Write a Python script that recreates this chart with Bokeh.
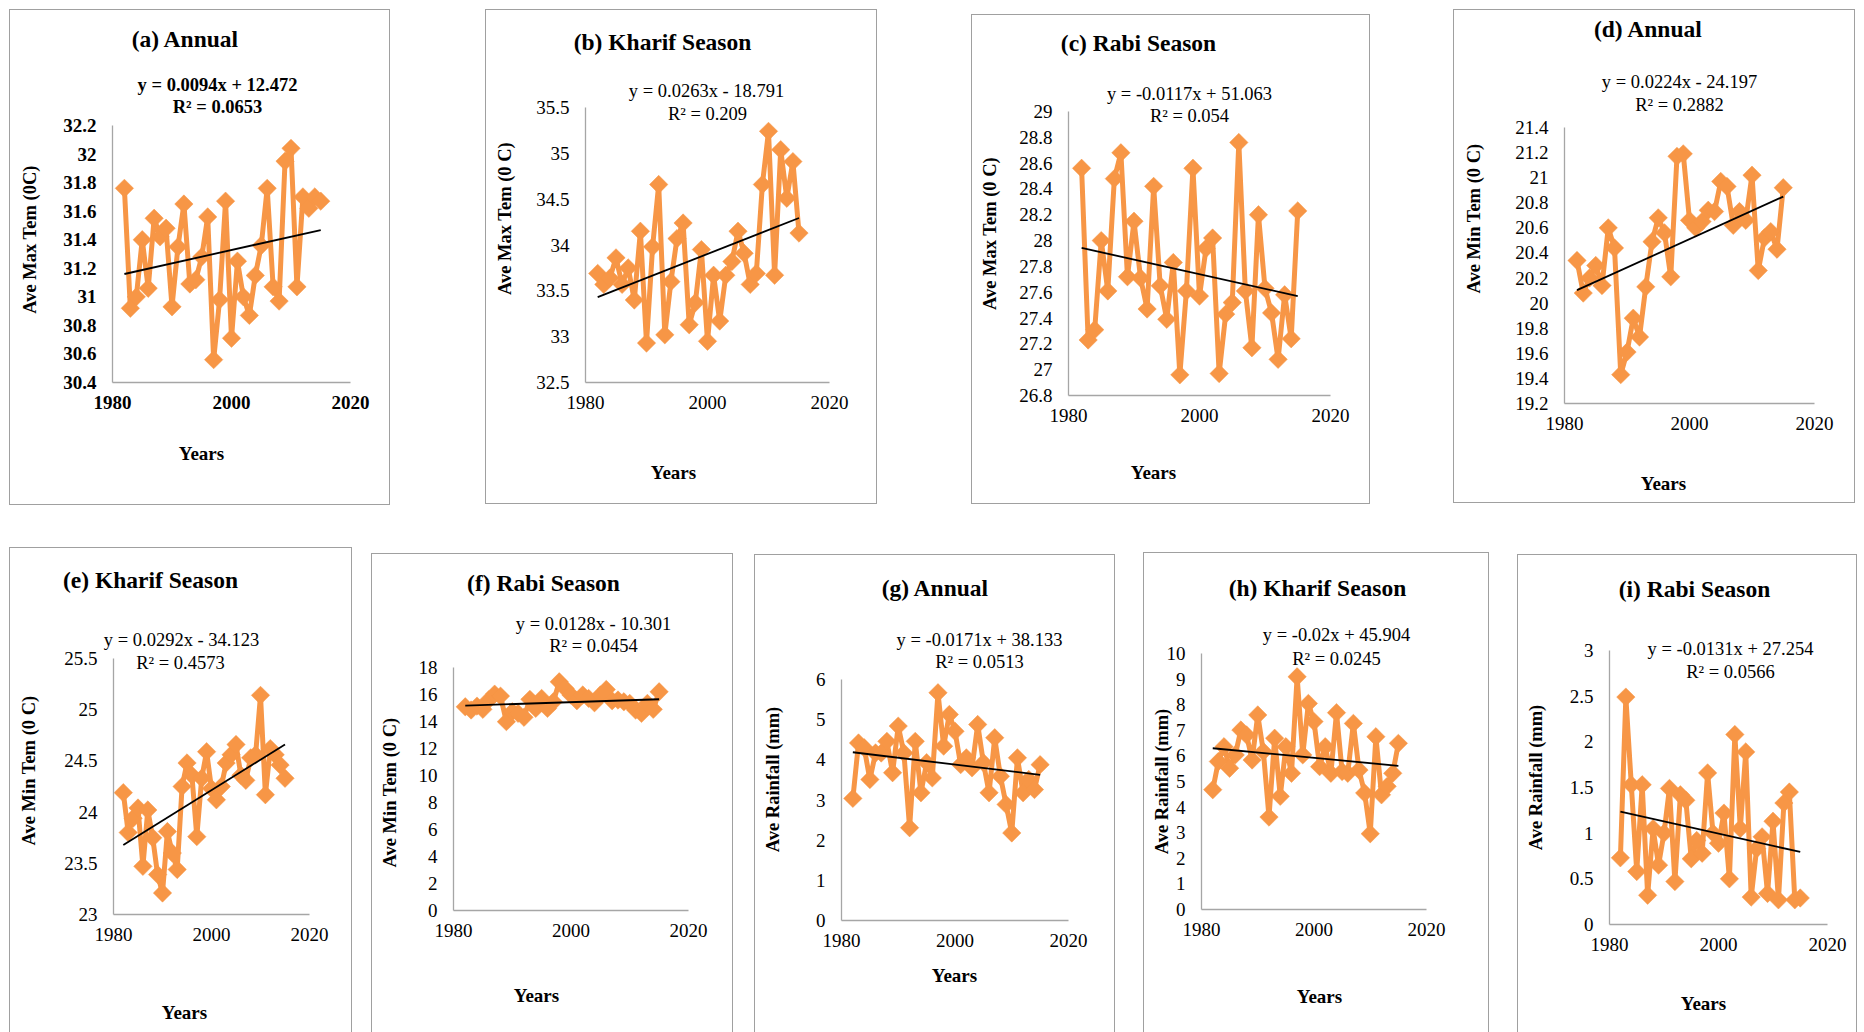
import numpy as np
from bokeh.plotting import figure
from bokeh.models import Range1d, FixedTicker, CustomJSTickFormatter, Label, Spacer
from bokeh.layouts import row, column
from bokeh.embed import file_html
from bokeh.resources import INLINE

years = list(range(1982, 2016))

max_annual = [31.76, 30.92, 31.00, 31.40, 31.06, 31.55, 31.42, 31.48, 30.93, 31.35,
              31.65, 31.09, 31.12, 31.28, 31.56, 30.56, 30.98, 31.67, 30.71, 31.25,
              31.00, 30.87, 31.15, 31.36, 31.76, 31.07, 30.97, 31.95, 32.04, 31.07,
              31.70, 31.62, 31.70, 31.67]
max_kharif = [33.69, 33.57, 33.64, 33.86, 33.57, 33.75, 33.40, 34.15, 32.93, 33.98,
              34.66, 33.02, 33.60, 34.07, 34.24, 33.13, 33.37, 33.95, 32.95, 33.67,
              33.17, 33.67, 33.82, 34.15, 33.91, 33.57, 33.69, 34.66, 35.24, 33.67,
              35.04, 34.51, 34.91, 34.13]
max_rabi = [28.56, 27.23, 27.31, 28.00, 27.61, 28.48, 28.68, 27.72, 28.15, 27.71,
            27.47, 28.42, 27.65, 27.39, 27.83, 26.96, 27.61, 28.56, 27.57, 27.94,
            28.02, 26.97, 27.43, 27.52, 28.76, 27.61, 27.17, 28.20, 27.63, 27.44,
            27.08, 27.58, 27.24, 28.23]
min_annual = [20.34, 20.08, 20.20, 20.30, 20.14, 20.60, 20.44, 19.43, 19.61, 19.88,
              19.73, 20.13, 20.49, 20.68, 20.56, 20.21, 21.17, 21.19, 20.66, 20.60,
              20.65, 20.74, 20.73, 20.97, 20.93, 20.62, 20.73, 20.66, 21.02, 20.26,
              20.52, 20.57, 20.43, 20.92]
min_kharif = [24.19, 23.80, 23.94, 24.04, 23.47, 24.02, 23.75, 23.39, 23.21, 23.81,
              23.60, 23.44, 24.25, 24.48, 24.36, 23.76, 24.33, 24.59, 24.23, 24.12,
              24.25, 24.48, 24.56, 24.66, 24.36, 24.31, 24.53, 24.56, 25.14, 24.17,
              24.62, 24.56, 24.46, 24.33]
min_rabi = [15.09, 14.85, 15.14, 14.90, 15.60, 16.03, 15.88, 13.99, 14.72, 14.60,
            14.31, 15.64, 14.97, 15.71, 14.97, 15.46, 16.94, 16.45, 15.96, 15.54,
            15.96, 15.71, 15.39, 15.96, 16.37, 15.54, 15.59, 15.46, 15.34, 14.85,
            14.60, 15.34, 14.90, 16.20]
rain_annual = [3.04, 4.42, 4.30, 3.51, 4.17, 4.17, 4.46, 3.68, 4.84, 4.17,
               2.31, 4.46, 3.18, 3.93, 3.55, 5.67, 4.34, 5.13, 4.71, 3.88,
               4.05, 3.80, 4.88, 3.93, 3.18, 4.55, 3.59, 2.89, 2.18, 4.05,
               3.18, 3.51, 3.26, 3.88]
rain_kharif = [4.68, 5.78, 6.36, 5.52, 6.04, 7.01, 6.82, 5.84, 7.60, 6.17,
               3.61, 6.69, 4.42, 6.36, 5.32, 9.09, 6.04, 8.05, 7.34, 5.58,
               6.36, 5.32, 7.69, 5.39, 5.32, 7.27, 5.45, 4.55, 2.96, 6.75,
               4.48, 4.81, 5.32, 6.49]
rain_rabi = [0.73, 2.49, 1.53, 0.58, 1.53, 0.32, 1.05, 0.65, 1.00, 1.49,
             0.47, 1.42, 1.36, 0.72, 0.92, 0.78, 1.66, 1.00, 0.89, 1.22,
             0.50, 2.08, 1.05, 1.89, 0.30, 0.83, 0.96, 0.34, 1.13, 0.27,
             1.33, 1.45, 0.27, 0.29]

titles = ["(a) Annual", "(b) Kharif Season", "(c) Rabi Season", "(d) Annual",
          "(e) Kharif Season", "(f) Rabi Season", "(g) Annual", "(h) Kharif Season",
          "(i) Rabi Season"]
equations = ["y = 0.0094x + 12.472", "y = 0.0263x - 18.791", "y = -0.0117x + 51.063",
             "y = 0.0224x - 24.197", "y = 0.0292x - 34.123", "y = 0.0128x - 10.301",
             "y = -0.0171x + 38.133", "y = -0.02x + 45.904", "y = -0.0131x + 27.254"]
r_squared = ["R² = 0.0653", "R² = 0.209", "R² = 0.054", "R² = 0.2882", "R² = 0.4573",
             "R² = 0.0454", "R² = 0.0513", "R² = 0.0245", "R² = 0.0566"]
y_titles = ["Ave Max Tem (0C)", "Ave Max Tem (0 C)", "Ave Max Tem (0 C)",
            "Ave Min Tem (0 C)", "Ave Min Tem (0 C)", "Ave Min Tem (0 C)",
            "Ave Rainfall (mm)", "Ave Rainfall (mm)", "Ave Rainfall (mm)"]
x_title = "Years"
x_ticks = [1980, 2000, 2020]
y_axes = [(30.4, 32.2, 0.2), (32.5, 35.5, 0.5), (26.8, 29.0, 0.2), (19.2, 21.4, 0.2),
          (23.0, 25.5, 0.5), (0, 18, 2), (0, 6, 1), (0, 10, 1), (0, 3, 0.5)]
series = [max_annual, max_kharif, max_rabi, min_annual, min_kharif, min_rabi,
          rain_annual, rain_kharif, rain_rabi]

# ---- layout (absolute pixel geometry of each panel) ----
layout = [
    dict(box=(9, 9, 390, 505), frame=(111, 349, 124, 381), title=(184, 37), eq=(216, 83), r2=(216, 105), yl=(28, 238), xl=(200, 452), bold=True),
    dict(box=(485, 9, 877, 504), frame=(584, 828, 106, 381), title=(661, 40), eq=(705, 89), r2=(706, 112), yl=(503, 217), xl=(672, 471)),
    dict(box=(971, 14, 1370, 504), frame=(1067, 1329, 110, 394), title=(1137, 41), eq=(1188, 92), r2=(1188, 114), yl=(988, 232), xl=(1152, 471)),
    dict(box=(1453, 9, 1855, 503), frame=(1563, 1813, 126, 402), title=(1647, 27), eq=(1678, 80), r2=(1678, 103), yl=(1472, 217), xl=(1662, 482)),
    dict(box=(9, 547, 352, 1032), frame=(112, 308, 657, 913), title=(149, 578), eq=(180, 638), r2=(179, 661), yl=(27, 769), xl=(183, 1011), open_bottom=True),
    dict(box=(371, 553, 733, 1032), frame=(452, 687, 666, 909), title=(542, 581), eq=(592, 622), r2=(592, 644), yl=(388, 791), xl=(535, 994), open_bottom=True),
    dict(box=(754, 554, 1115, 1032), frame=(840, 1067, 678, 919), title=(934, 586), eq=(978, 638), r2=(978, 660), yl=(771, 778), xl=(953, 974), open_bottom=True),
    dict(box=(1143, 552, 1489, 1032), frame=(1200, 1425, 652, 908), title=(1316, 586), eq=(1335, 633), r2=(1335, 657), yl=(1160, 780), xl=(1318, 995), open_bottom=True),
    dict(box=(1517, 554, 1857, 1032), frame=(1608, 1826, 649, 923), title=(1693, 587), eq=(1729, 647), r2=(1729, 670), yl=(1534, 776), xl=(1702, 1002), open_bottom=True),
]

FONT = "Liberation Serif"
ORANGE = "#F79646"
AXIS_GRAY = "#a6a6a6"
BOX_CSS = "1.5px solid #a0a0a0"


def make_panel(i):
    spec = layout[i]
    bx0, by0, bx1, by1 = spec["box"]
    fl, fr, ft, fb = spec["frame"]
    ylo, yhi, ystep = y_axes[i]
    bold = spec.get("bold", False)
    W, H = bx1 - bx0, by1 - by0

    # data ranges chosen so that the axes sit at the reference pixel positions
    kx = 40.0 / (fr - fl)
    ky = (yhi - ylo) / (fb - ft)
    x0 = 1980 - (fl - bx0) * kx
    x1 = 2020 + (bx1 - fr) * kx
    y0 = ylo - (by1 - fb) * ky
    y1 = yhi + (ft - by0) * ky

    p = figure(width=W, height=H, output_backend="svg", toolbar_location=None,
               x_range=Range1d(x0, x1), y_range=Range1d(y0, y1),
               min_border=0, min_border_left=0, min_border_right=0,
               min_border_top=0, min_border_bottom=0)
    css = {"border": BOX_CSS, "box-sizing": "border-box"}
    if spec.get("open_bottom"):
        css["border-bottom"] = "none"
    p.styles = css
    p.outline_line_color = None
    p.xgrid.visible = False
    p.ygrid.visible = False
    p.background_fill_color = "white"
    p.border_fill_color = "white"

    nt = int(round((yhi - ylo) / ystep))
    yt = [round(ylo + k * ystep, 3) for k in range(nt + 1)]
    fmt = CustomJSTickFormatter(code="return String(parseFloat(tick.toFixed(3)));")
    xa, ya = p.xaxis[0], p.yaxis[0]
    xa.fixed_location = ylo
    xa.bounds = (1980, 2020)
    ya.fixed_location = 1980
    ya.bounds = (ylo, yhi)
    for ax, ticks in ((xa, x_ticks), (ya, yt)):
        ax.ticker = FixedTicker(ticks=ticks)
        ax.formatter = fmt
        ax.axis_line_color = AXIS_GRAY
        ax.axis_line_width = 1.3
        ax.major_tick_line_color = None
        ax.minor_tick_line_color = None
        ax.major_tick_out = 0
        ax.major_tick_in = 0
        ax.major_label_text_font = FONT
        ax.major_label_text_font_size = "19px"
        ax.major_label_text_color = "black"
        ax.major_label_text_font_style = "bold" if bold else "normal"
    xa.major_label_standoff = 13
    ya.major_label_standoff = 16

    yrs = np.array(years, dtype=float)
    vals = np.array(series[i], dtype=float)
    p.line(yrs, vals, line_color=ORANGE, line_width=5, line_join="round")
    p.scatter(yrs, vals, marker="square", angle=np.pi / 4, size=13,
              fill_color=ORANGE, line_color=ORANGE, line_width=0.5)
    m, c = np.polyfit(yrs, vals, 1)
    tx = np.array([yrs[0], yrs[-1]])
    p.line(tx, m * tx + c, line_color="black", line_width=1.8)

    def dx(px):
        return 1980 + (px - fl) * kx

    def dy(py):
        return ylo + (fb - py) * ky

    def lab(pos, text, size, style, angle=0.0):
        p.add_layout(Label(x=dx(pos[0]), y=dy(pos[1]), text=text, angle=angle,
                           text_align="center", text_baseline="middle",
                           text_font=FONT, text_font_size=size,
                           text_font_style=style, text_color="black"))

    lab(spec["title"], titles[i], "23.5px", "bold")
    lab(spec["eq"], equations[i], "18.5px", "bold" if bold else "normal")
    lab(spec["r2"], r_squared[i], "18.5px", "bold" if bold else "normal")
    lab(spec["yl"], y_titles[i], "18.5px", "bold", angle=np.pi / 2)
    lab(spec["xl"], x_title, "19px", "bold")
    return p


panels = [make_panel(i) for i in range(9)]


def build_row(idx, row_top):
    items = []
    cur_x = 0
    for i in idx:
        bx0, by0, bx1, by1 = layout[i]["box"]
        if bx0 - cur_x > 0:
            items.append(Spacer(width=bx0 - cur_x, height=1))
        off = by0 - row_top
        if off > 0:
            items.append(column(Spacer(width=1, height=off), panels[i]))
        else:
            items.append(panels[i])
        cur_x = bx1
    return row(*items)


top_bottom = max(layout[i]["box"][3] for i in range(4))
page = column(build_row([0, 1, 2, 3], 0), build_row([4, 5, 6, 7, 8], top_bottom))

open("out.html", "w").write(file_html(page, INLINE))
